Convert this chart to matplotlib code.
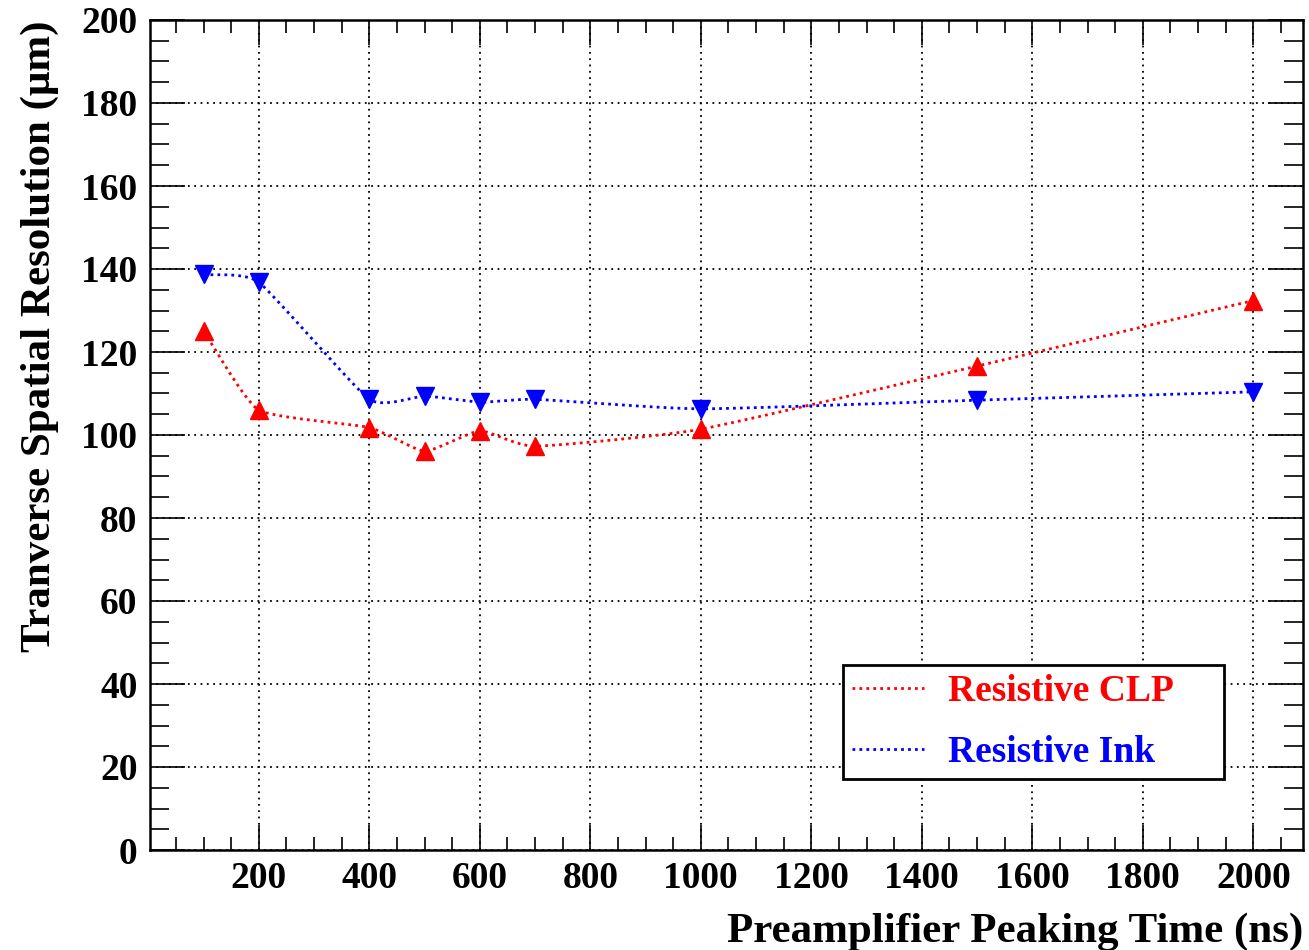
import numpy as np
import matplotlib
matplotlib.use("Agg")
import matplotlib.pyplot as plt
from matplotlib.lines import Line2D
from matplotlib.ticker import MultipleLocator, FixedLocator

plt.rcParams['font.family'] = ['Liberation Serif', 'DejaVu Serif']
plt.rcParams['font.weight'] = 'bold'

peaking_time = [100, 200, 400, 500, 600, 700, 1000, 1500, 2000]
res_clp = [125.0, 106.0, 101.8, 96.1, 101.0, 97.3, 101.4, 116.6, 132.4]
res_ink = [138.7, 136.8, 108.6, 109.4, 107.9, 108.6, 106.3, 108.4, 110.4]
x_ticks = [200, 400, 600, 800, 1000, 1200, 1400, 1600, 1800, 2000]
y_ticks = [0, 20, 40, 60, 80, 100, 120, 140, 160, 180, 200]
labels = ["Resistive CLP", "Resistive Ink"]

W, H = 1309, 950
fig = plt.figure(figsize=(W / 100, H / 100), dpi=100)
ax = fig.add_axes([150 / W, 1 - 850 / H, (1303 - 150) / W, (850 - 20) / H])
XMIN, XMAX = 3, 2090
ax.set_xlim(XMIN, XMAX)
ax.set_ylim(0, 200)


def smooth(xd, yd, n=30, tension=0.5):
    # cardinal spline through points, computed in display-like scale
    sx = 1153 / (XMAX - XMIN)
    sy = 830 / 200
    P = np.column_stack([np.asarray(xd, float) * sx, np.asarray(yd, float) * sy])
    m = len(P)
    T = np.zeros_like(P)
    for i in range(m):
        a = P[max(i - 1, 0)]
        b = P[min(i + 1, m - 1)]
        T[i] = tension * (b - a) / (2 if 0 < i < m - 1 else 1)
    out = []
    t = np.linspace(0, 1, n, endpoint=False)[:, None]
    h00 = 2 * t ** 3 - 3 * t ** 2 + 1
    h10 = t ** 3 - 2 * t ** 2 + t
    h01 = -2 * t ** 3 + 3 * t ** 2
    h11 = t ** 3 - t ** 2
    for i in range(m - 1):
        out.append(h00 * P[i] + h10 * T[i] + h01 * P[i + 1] + h11 * T[i + 1])
    out.append(P[-1][None, :])
    out = np.vstack(out)
    return out[:, 0] / sx, out[:, 1] / sy


dot = (0, (1, 1.5))
for yv, col, mk in [(res_clp, 'red', '^'), (res_ink, 'blue', 'v')]:
    xs, ys = smooth(peaking_time, yv)
    ax.plot(xs, ys, color=col, lw=2, linestyle=dot, zorder=3)
    ax.plot(peaking_time, yv, linestyle='none', marker=mk, color=col, ms=13, zorder=4)

ax.xaxis.set_major_locator(FixedLocator(x_ticks))
ax.xaxis.set_minor_locator(MultipleLocator(50))
ax.yaxis.set_major_locator(FixedLocator(y_ticks))
ax.yaxis.set_minor_locator(MultipleLocator(5))
ax.tick_params(axis='both', which='both', direction='in', top=True, right=True, width=1.2)
ax.tick_params(axis='x', which='major', length=18, pad=8, labelsize=27)
ax.tick_params(axis='x', which='minor', length=9.4)
ax.tick_params(axis='y', which='major', length=25, pad=9, labelsize=27)
ax.tick_params(axis='y', which='minor', length=13.5)
for lab in ax.get_xticklabels() + ax.get_yticklabels():
    lab.set_fontweight('bold')
for s in ax.spines.values():
    s.set_linewidth(1.8)

ax.grid(True, which='major', color='black', linestyle=(0, (1, 2.5)), lw=1.3)
ax.set_axisbelow(True)

ax.set_xlabel("Preamplifier Peaking Time (ns)", fontsize=31, fontweight='bold', loc='right', labelpad=12)
ax.set_ylabel("Tranverse Spatial Resolution (μm)", fontsize=31, fontweight='bold', loc='top', labelpad=16)

handles = [Line2D([], [], color='red', lw=2, linestyle=dot),
           Line2D([], [], color='blue', lw=2, linestyle=dot)]
x0 = (843 - 150) / 1153
x1 = (1224 - 150) / 1153
y0 = (850 - 779) / 830
y1 = (850 - 665) / 830
leg = ax.legend(handles, labels, loc='lower left', bbox_to_anchor=(x0, y0, x1 - x0, y1 - y0),
                mode='expand', fontsize=27, labelcolor=['red', 'blue'], frameon=True,
                fancybox=False, edgecolor='black', framealpha=1, handlelength=1.9,
                handletextpad=0.65, borderpad=0.25, labelspacing=0.68, borderaxespad=0)
leg.get_frame().set_linewidth(2)
for t in leg.get_texts():
    t.set_fontweight('bold')

fig.savefig("out.png", dpi=100)
